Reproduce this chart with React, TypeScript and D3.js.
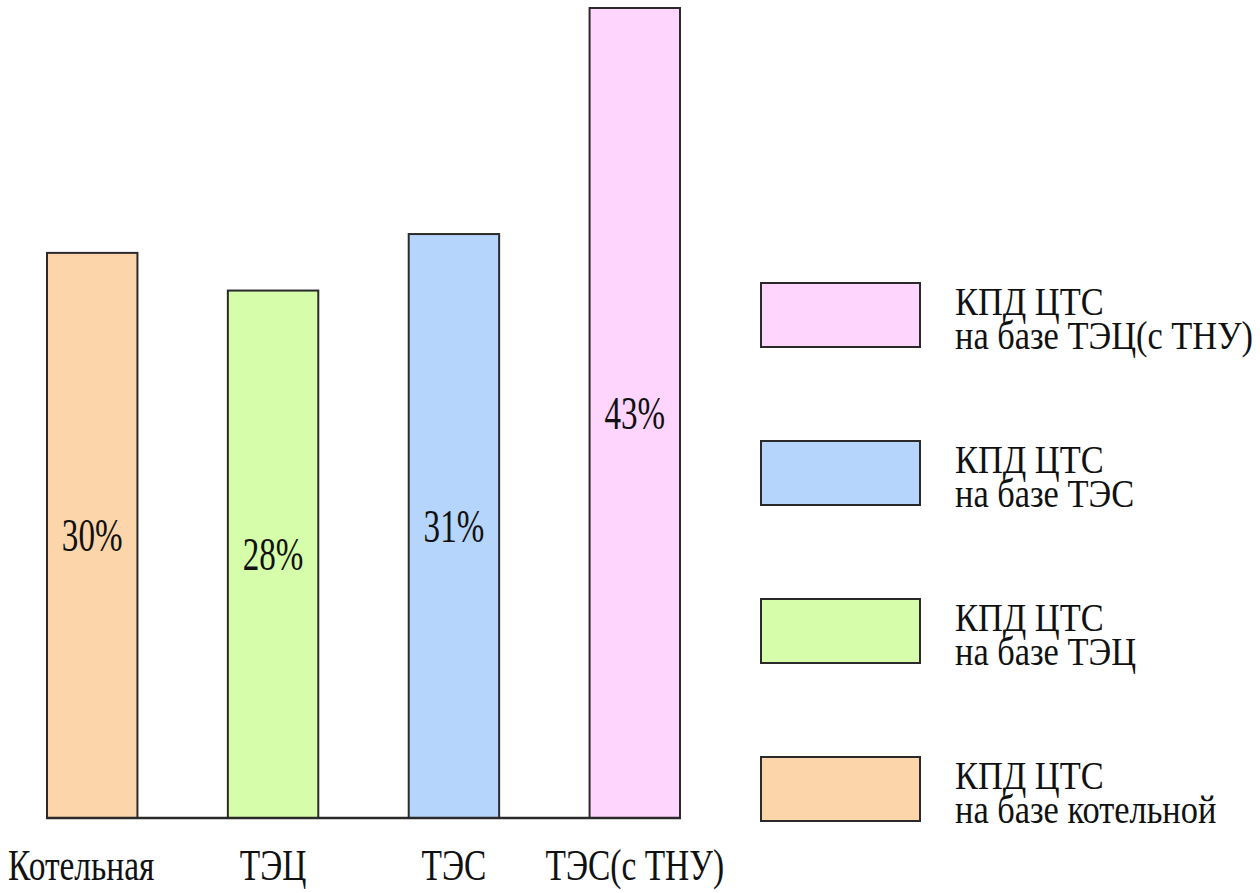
import React from 'react'
import * as d3 from 'd3'

const categories = ['Котельная', 'ТЭЦ', 'ТЭС', 'ТЭС(с ТНУ)']
const values = [30, 28, 31, 43]
const barColors = ['#fdd5aa', '#d5fdaa', '#b5d5fd', '#fdd5fd']
const legendTitles = ['КПД ЦТС', 'КПД ЦТС', 'КПД ЦТС', 'КПД ЦТС']
const legendSubtitles = ['на базе ТЭЦ(с ТНУ)', 'на базе ТЭС', 'на базе ТЭЦ', 'на базе котельной']
const legendColors = ['#fdd5fd', '#b5d5fd', '#d5fdaa', '#fdd5aa']

const width = 1260
const height = 893
const font = "'Liberation Serif', 'Times New Roman', serif"

// text squeezed horizontally, anchored at (x, y)
const Txt = ({ x, y, size, anchor, sx, children }: any) => (
  <text
    transform={`translate(${x},${y}) scale(${sx},1)`}
    fontFamily={font}
    fontSize={size}
    textAnchor={anchor || 'start'}
    fill="#111"
  >
    {children}
  </text>
)

const App = () => {
  const baseline = 818
  const xScale = d3.scaleBand<string>()
    .domain(categories)
    .range([47, 680])
    .paddingInner(0.5)
    .paddingOuter(0)
  const yScale = d3.scaleLinear().domain([0, 43]).range([baseline, 8])
  const bw = xScale.bandwidth()

  return (
    <svg width={width} height={height} style={{ position: 'absolute', left: 0, top: 0, background: '#fff' }}>
      {categories.map((c, i) => {
        const x = xScale(c) as number
        const y = yScale(values[i])
        return (
          <g key={c}>
            <rect x={x} y={y} width={bw} height={baseline - y} fill={barColors[i]} stroke="#2a2a2a" strokeWidth={2} />
            <Txt x={x + bw / 2} y={(y + baseline) / 2 + 16} size={46} sx={0.72} anchor="middle">{values[i]}%</Txt>
          </g>
        )
      })}
      <line x1={46} x2={681} y1={baseline} y2={baseline} stroke="#2a2a2a" strokeWidth={2.5} />
      {categories.map((c, i) => (
        <Txt key={'l' + c} x={(xScale(c) as number) + bw / 2 - (i === 0 ? 11 : 0)} y={880} size={44} sx={0.76} anchor="middle">{c}</Txt>
      ))}
      {legendTitles.map((t, i) => {
        const top = 283 + i * 158
        return (
          <g key={'lg' + i}>
            <rect x={761} y={top} width={159} height={64} fill={legendColors[i]} stroke="#2a2a2a" strokeWidth={2} />
            <Txt x={955} y={top + 32} size={40} sx={0.86}>{t}</Txt>
            <Txt x={955} y={top + 66} size={40} sx={0.86}>{legendSubtitles[i]}</Txt>
          </g>
        )
      })}
    </svg>
  )
}

export default App
